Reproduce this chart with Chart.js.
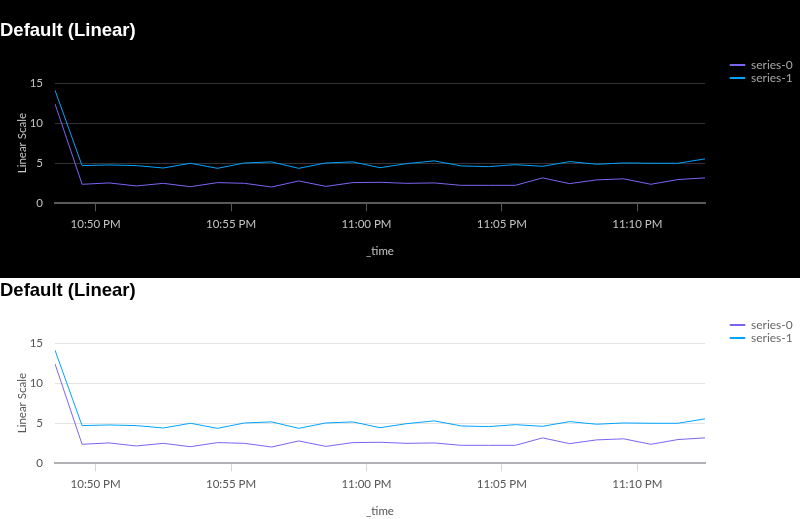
<!DOCTYPE html>
<html>
<head>
<meta charset="utf-8">
<script src="https://cdn.jsdelivr.net/npm/chart.js@4.4.1/dist/chart.umd.min.js"></script>
<style>
  html, body { margin: 0; padding: 0; background: #fff; overflow: hidden; }
  #darkBg { position: absolute; left: 0; top: 0; width: 800px; height: 278px; background: #000; }
  .panel { position: absolute; left: 0; width: 800px; height: 260px; }
</style>
</head>
<body>
<div id="darkBg"></div>
<div class="panel" style="top:0"><canvas id="darkChart"></canvas></div>
<div class="panel" style="top:260px"><canvas id="lightChart"></canvas></div>
<script>
// one point per minute
var times = ['22:48:30', '22:49:30', '22:50:30', '22:51:30', '22:52:30', '22:53:30', '22:54:30',
    '22:55:30', '22:56:30', '22:57:30', '22:58:30', '22:59:30', '23:00:30', '23:01:30', '23:02:30',
    '23:03:30', '23:04:30', '23:05:30', '23:06:30', '23:07:30', '23:08:30', '23:09:30', '23:10:30',
    '23:11:30', '23:12:30'];
var series0 = [12.4, 2.37, 2.54, 2.16, 2.49, 2.07, 2.58, 2.49, 2.03, 2.79, 2.11, 2.58, 2.62,
    2.49, 2.54, 2.24, 2.24, 2.24, 3.17, 2.45, 2.92, 3.05, 2.37, 2.96, 3.17];
var series1 = [14.1, 4.70, 4.78, 4.70, 4.40, 4.99, 4.36, 5.03, 5.16, 4.36, 5.03, 5.16, 4.44,
    4.95, 5.29, 4.66, 4.57, 4.82, 4.61, 5.20, 4.87, 5.03, 4.99, 4.99, 5.54];
var seriesNames = ['series-0', 'series-1'];
var seriesColors = ['#7A65F2', '#00A3FF'];
var xTicks = ['22:50', '22:55', '23:00', '23:05', '23:10'];
var yTicks = [0, 5, 10, 15];

function toMin(t) {
    var p = t.split(':');
    return +p[0] * 60 + +p[1] + (p[2] ? +p[2] / 60 : 0);
}

function fmtTime(m) {
    var h = Math.floor(m / 60);
    var mm = Math.round(m - h * 60);
    var ampm = h >= 12 ? 'PM' : 'AM';
    var h12 = h % 12 || 12;
    return h12 + ':' + (mm < 10 ? '0' : '') + mm + ' ' + ampm;
}

function points(values) {
    var out = [];
    for (var i in values) {
        out.push({x: toMin(times[i]), y: values[i]});
    }
    return out;
}

var tickFont = {family: 'Lato', size: 11.5, lineHeight: 1.2};

function makeChart(id, theme) {
    var allSeries = [series0, series1];
    var datasets = [];
    for (var i = 0; i < allSeries.length; i++) {
        datasets.push({
            label: seriesNames[i],
            data: points(allSeries[i]),
            borderColor: seriesColors[i],
            backgroundColor: seriesColors[i],
            borderWidth: 1,
            pointRadius: 0,
            tension: 0,
            yAxisID: 'y'
        });
    }

    return new Chart(document.getElementById(id), {
        type: 'line',
        data: {datasets: datasets},
        options: {
            responsive: true,
            maintainAspectRatio: false,
            animation: false,
            layout: {padding: 0},
            plugins: {
                title: {
                    display: true,
                    text: 'Default (Linear)',
                    align: 'start',
                    color: theme.title,
                    font: {family: 'Liberation Sans', size: 18.5, weight: 'bold', lineHeight: 1.2},
                    padding: {top: 20, bottom: 40.8}
                },
                legend: {
                    position: 'right',
                    align: 'start',
                    maxWidth: 71,
                    title: {display: true, text: '', font: {size: 10, lineHeight: 1}, padding: {top: 0, bottom: 48}},
                    labels: {
                        boxWidth: 15,
                        boxHeight: 1,
                        padding: 1,
                        color: theme.legend,
                        font: {family: 'Lato', size: 12, lineHeight: 1}
                    }
                },
                tooltip: {enabled: false}
            },
            scales: {
                x: {
                    type: 'linear',
                    min: toMin(times[0]),
                    max: toMin(times[times.length - 1]),
                    afterFit: function(s) { s.height = 56.7; },
                    afterBuildTicks: function(s) {
                        s.ticks = xTicks.map(function(t) { return {value: toMin(t)}; });
                    },
                    grid: {display: true, drawOnChartArea: false, drawTicks: true, tickLength: 8, color: theme.tick},
                    border: {display: true, color: theme.axis, width: 2},
                    ticks: {
                        padding: 6,
                        maxRotation: 0,
                        autoSkip: false,
                        color: theme.text,
                        font: tickFont,
                        callback: function(v) { return fmtTime(v); }
                    },
                    title: {display: true, text: '_time', color: theme.text, font: tickFont, padding: {top: 0, bottom: 1.6}}
                },
                y: {
                    min: 0,
                    max: 15,
                    afterFit: function(s) { s.width = 55; },
                    afterBuildTicks: function(s) {
                        s.ticks = yTicks.map(function(v) { return {value: v}; });
                    },
                    grid: {color: theme.grid, drawTicks: false},
                    border: {display: false},
                    ticks: {padding: 12, color: theme.text, font: tickFont},
                    title: {display: true, text: 'Linear Scale', color: theme.text, font: tickFont, padding: {top: 15.1, bottom: 0}}
                },
                spacer: {
                    type: 'linear',
                    position: 'right',
                    display: true,
                    afterFit: function(s) { s.width = 24; },
                    grid: {display: false, drawTicks: false},
                    border: {display: false},
                    ticks: {display: false}
                }
            }
        }
    });
}

makeChart('darkChart', {
    title: '#ffffff', text: '#c4c4c4', legend: '#a8a8a8',
    grid: '#333333', axis: '#5a5a5a', tick: '#555555'
});
makeChart('lightChart', {
    title: '#000000', text: '#555555', legend: '#666666',
    grid: '#e4e4e4', axis: '#b0b2b6', tick: '#d8d8d8'
});
</script>
</body>
</html>
